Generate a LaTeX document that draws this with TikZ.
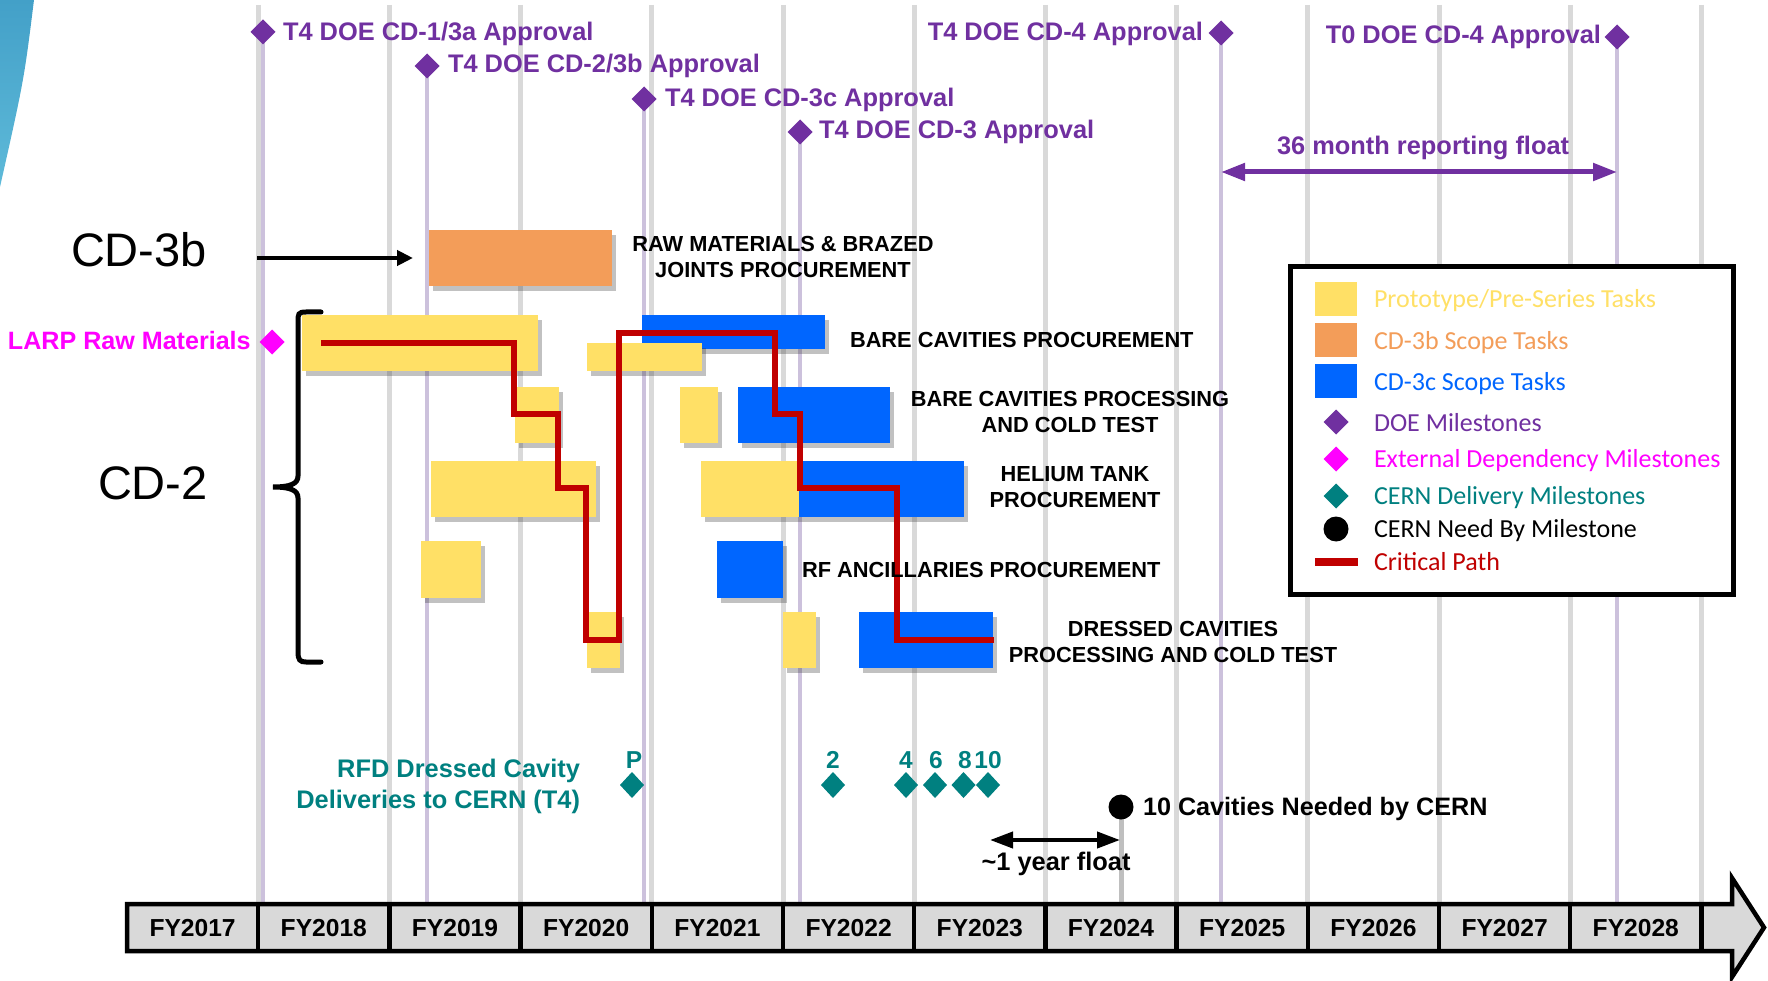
\documentclass[tikz,border=0pt]{standalone}
\usepackage{fontspec}
\setmainfont{Liberation Sans}
\newfontfamily\calib{Carlito}
\usetikzlibrary{arrows.meta,shapes.geometric,shadows}

\definecolor{gridgray}{HTML}{D9D9D9}
\definecolor{gridlav}{HTML}{CCC1DC}
\definecolor{doepurple}{HTML}{7030A0}
\definecolor{protoyellow}{HTML}{FFE066}
\definecolor{scopeorange}{HTML}{F39D59}
\definecolor{scopeblue}{HTML}{0066FF}
\definecolor{critred}{HTML}{C00000}
\definecolor{cernteal}{HTML}{008080}
\definecolor{extmag}{HTML}{FF00FF}
\definecolor{barfill}{HTML}{D9D9D9}
\definecolor{wedgetop}{HTML}{43A0C8}
\definecolor{wedgebot}{HTML}{5EBAD9}
\definecolor{needgray}{HTML}{BFBFBF}

\begin{document}
\begin{tikzpicture}[x=1pt,y=-1pt,
  every node/.style={inner sep=0pt, outer sep=0pt},
  gridline/.style={draw=gridgray, line width=5pt},
  lavline/.style={draw=gridlav, line width=4.5pt},
  mstext/.style={font=\fontsize{25.4}{30}\selectfont\bfseries, text=doepurple},
  dmd/.style={diamond, minimum width=25pt, minimum height=25pt, fill=#1},
  taskbox/.style={rectangle, anchor=north west, fill=#1,
     drop shadow={shadow xshift=4pt, shadow yshift=-5pt, opacity=0.3, fill=black!80}},
  tlabel/.style={font=\fontsize{21.8}{26}\selectfont\bfseries, align=center},
  fy/.style={font=\fontsize{24.6}{28}\selectfont\bfseries, anchor=base},
  legtext/.style={font=\calib\fontsize{26}{30}\selectfont, anchor=base west},
  legsq/.style={rectangle, anchor=north west, minimum width=42pt, minimum height=34pt, fill=#1},
  bigtext/.style={font=\fontsize{47}{54}\selectfont, anchor=base west},
  tealtext/.style={font=\fontsize{25.4}{31}\selectfont\bfseries, text=cernteal},
  tealnum/.style={font=\fontsize{24.5}{28}\selectfont\bfseries, text=cernteal, anchor=base},
  tdmd/.style={diamond, minimum width=24pt, minimum height=26pt, fill=cernteal}
]
\useasboundingbox (0,0) rectangle (1768,981);

% top-left decorative wedge
\shade[top color=wedgetop, bottom color=wedgebot] (0,0) -- (34,0) .. controls (24,80) .. (0,187) -- cycle;

% year gridlines
\foreach \k in {1,...,12}
  \draw[gridline] ({127+131.2*\k},5) -- ({127+131.2*\k},904);

% DOE milestone lines, then diamonds
\coordinate (barTop) at (0,904);
\foreach \m/\px/\py in {1/263/32,2/427/66,3/644/99,4/800/132,5/1221/33,6/1617/37}{
  \coordinate (msc\m) at (\px,\py);
  \draw[lavline] (msc\m) -- (msc\m |- barTop);
}
\node[dmd=doepurple] (ms1) at (msc1) {};
\node[dmd=doepurple] (ms2) at (msc2) {};
\node[dmd=doepurple] (ms3) at (msc3) {};
\node[dmd=doepurple] (ms4) at (msc4) {};
\node[dmd=doepurple] (ms5) at (msc5) {};
\node[dmd=doepurple] (ms6) at (msc6) {};

% milestone texts
\node[mstext, anchor=base west] (t1) at (283,41) {T4 DOE CD-1/3a Approval};
\node[mstext, anchor=base west] (t2) at (448,73) {T4 DOE CD-2/3b Approval};
\node[mstext, anchor=base west] (t3) at (665,107) {T4 DOE CD-3c Approval};
\node[mstext, anchor=base west] (t4) at (819,139) {T4 DOE CD-3 Approval};
\node[mstext, anchor=base east] (t5) at (1203,41) {T4 DOE CD-4 Approval};
\node[mstext, anchor=base east] (t6) at (1601,44) {T0 DOE CD-4 Approval};
\node[mstext, anchor=base west] (flt) at (1277,155) {36 month reporting float};
\coordinate (fl) at (0,172);
\draw[doepurple, line width=5pt, {Triangle[length=24pt,width=17pt]}-{Triangle[length=24pt,width=17pt]}]
  (ms5 |- fl) -- (ms6 |- fl);

% task boxes
\node[taskbox=scopeorange, minimum width=183pt, minimum height=56pt] (orb) at (429,230) {};
\node[taskbox=protoyellow, minimum width=236pt, minimum height=56pt] (y1) at (302,315) {};
\node[taskbox=scopeblue, minimum width=183pt, minimum height=34pt] (b1) at (642,315) {};
\node[taskbox=protoyellow, minimum width=115pt, minimum height=28pt] (y6) at (587,343) {};
\node[taskbox=protoyellow, minimum width=44pt, minimum height=56pt] (y2) at (515,387) {};
\node[taskbox=protoyellow, minimum width=38pt, minimum height=56pt] (y7) at (680,387) {};
\node[taskbox=scopeblue, minimum width=152pt, minimum height=56pt] (b2) at (738,387) {};
\node[taskbox=protoyellow, minimum width=165pt, minimum height=56pt] (y3) at (431,461) {};
\node[taskbox=protoyellow, minimum width=98pt, minimum height=56pt] (y8) at (701,461) {};
\node[taskbox=scopeblue, minimum width=165pt, minimum height=56pt] (b3) at (799,461) {};
\node[taskbox=protoyellow, minimum width=60pt, minimum height=57pt] (y4) at (421,541) {};
\node[taskbox=scopeblue, minimum width=66pt, minimum height=57pt] (b4) at (717,541) {};
\node[taskbox=protoyellow, minimum width=33pt, minimum height=56pt] (y5) at (587,612) {};
\node[taskbox=protoyellow, minimum width=33pt, minimum height=56pt] (y9) at (783,612) {};
\node[taskbox=scopeblue, minimum width=134pt, minimum height=56pt] (b5) at (859,612) {};

% critical path
\draw[critred, line width=5.5pt, line join=miter]
  (321,343) -- (514,343) -- (514,414) -- (558,414) -- (558,488) -- (586,488)
  -- (586,640) -- (619,640) -- (619,333) -- (775,333) -- (775,414) -- (800,414)
  -- (800,488) -- (897,488) -- (897,640) -- (994,640);

% task labels
\node[tlabel, anchor=north] (lraw) at (783,236.4) {RAW MATERIALS \& BRAZED\\JOINTS PROCUREMENT};
\node[tlabel, anchor=base west] (lbcp) at (850,347) {BARE CAVITIES PROCUREMENT};
\node[tlabel, anchor=north] (lbct) at (1070,391.4) {BARE CAVITIES PROCESSING\\AND COLD TEST};
\node[tlabel, anchor=north] (lhe) at (1075,466.4) {HELIUM TANK\\PROCUREMENT};
\node[tlabel, anchor=base west] (lrf) at (802,577) {RF ANCILLARIES PROCUREMENT};
\node[tlabel, anchor=north] (ldc) at (1173,621.4) {DRESSED CAVITIES\\PROCESSING AND COLD TEST};

% CD-3b and CD-2 labels
\node[bigtext] (cd3b) at (71,267) {CD-3b};
\node[bigtext] (cd2) at (98,499) {CD-2};
\coordinate (cdarrow) at (257,258);
\draw[line width=4.5pt, -{Triangle[length=16pt,width=15pt]}] (cdarrow) -- ([xshift=-16pt]orb.west);

% brace
\draw[line width=5pt, line cap=round]
  (321,312) -- (306,312) .. controls (298,312) and (298,314) .. (298,322) -- (298,476)
  .. controls (298,484) and (290,487) .. (273,487)
  .. controls (290,487) and (298,490) .. (298,498) -- (298,652)
  .. controls (298,660) and (300,662) .. (306,662) -- (321,662);

% LARP
\node[font=\fontsize{25.1}{30}\selectfont\bfseries, text=extmag, anchor=base west] (larp) at (8,349) {LARP Raw Materials};
\node[dmd=extmag] (larpd) at (272,342) {};

% CERN deliveries
\node[tealtext, align=right, anchor=north east] (rfd) at (580,758.8) {RFD Dressed Cavity\\Deliveries to CERN (T4)};
\node[tdmd] (dP) at (632,785) {};
\node[tdmd] (d2) at (833,785) {};
\node[tdmd] (d4) at (906,785) {};
\node[tdmd] (d6) at (935,785) {};
\node[tdmd] (d8) at (963.5,785) {};
\node[tdmd] (d10) at (988,785) {};
\node[tealnum] (nP) at (634,768) {P};
\node[tealnum] (n2) at (833,768) {2};
\node[tealnum] (n4) at (906,768) {4};
\node[tealnum] (n6) at (936,768) {6};
\node[tealnum] (n8) at (965,768) {8};
\node[tealnum] (n10) at (988,768) {10};

% CERN need-by
\coordinate (needc) at (1121,807);
\draw[needgray, line width=5pt] (needc) -- (needc |- barTop);
\node[circle, minimum size=25pt, fill=black] (need) at (needc) {};
\node[font=\fontsize{25.2}{30}\selectfont\bfseries, anchor=base west] (needt) at (1143,815) {10 Cavities Needed by CERN};
\coordinate (yf) at (990,840);
\draw[line width=4pt, {Triangle[length=23pt,width=16pt]}-{Triangle[length=23pt,width=16pt]}] (yf) -- ([xshift=-1pt]need |- yf);
\node[font=\fontsize{25.4}{30}\selectfont\bfseries, anchor=base] (yft) at (1056,870) {\textasciitilde1 year float};

% legend
\node[draw, line width=5pt, minimum width=443pt, minimum height=328pt, fill=white] (legend) at (1512,430.5) {};
\node[legsq=protoyellow] (lg1) at (1315,282) {};
\node[legsq=scopeorange] (lg2) at (1315,323) {};
\node[legsq=scopeblue] (lg3) at (1315,364) {};
\node[dmd=doepurple] (lg4) at (1336,422) {};
\node[dmd=extmag] (lg5) at (1336,459) {};
\node[dmd=cernteal] (lg6) at (1336,496) {};
\node[circle, minimum size=25pt, fill=black] (lg7) at (1336,529) {};
\coordinate (lg8a) at (1315,562);
\coordinate (lg8b) at (1358,562);
\draw[critred, line width=8pt] (lg8a) -- (lg8b);
\node[legtext, text=protoyellow] (lt1) at (1374,308) {Prototype/Pre-Series Tasks};
\node[legtext, text=scopeorange] (lt2) at (1374,349) {CD-3b Scope Tasks};
\node[legtext, text=scopeblue] (lt3) at (1374,390) {CD-3c Scope Tasks};
\node[legtext, text=doepurple] (lt4) at (1374,431) {DOE Milestones};
\node[legtext, text=extmag] (lt5) at (1374,467) {External Dependency Milestones};
\node[legtext, text=cernteal] (lt6) at (1374,504) {CERN Delivery Milestones};
\node[legtext, text=black] (lt7) at (1374,537) {CERN Need By Milestone};
\node[legtext, text=critred] (lt8) at (1374,570) {Critical Path};

% timeline arrow
\draw[fill=barfill, line width=4.5pt, line join=miter]
  (127,904) -- (1732,904) -- (1732,878) -- (1764,927.5) -- (1732,977) -- (1732,951) -- (127,951) -- cycle;
\foreach \k in {1,...,12}
  \draw[line width=4.5pt] ({127+131.2*\k},904) -- ({127+131.2*\k},951);
\foreach \k [evaluate=\k as \yr using int(2017+\k)] in {0,...,11}
  \node[fy] (fy\yr) at ({127+131.2*(\k+0.5)},936) {FY\yr};
\end{tikzpicture}
\end{document}
